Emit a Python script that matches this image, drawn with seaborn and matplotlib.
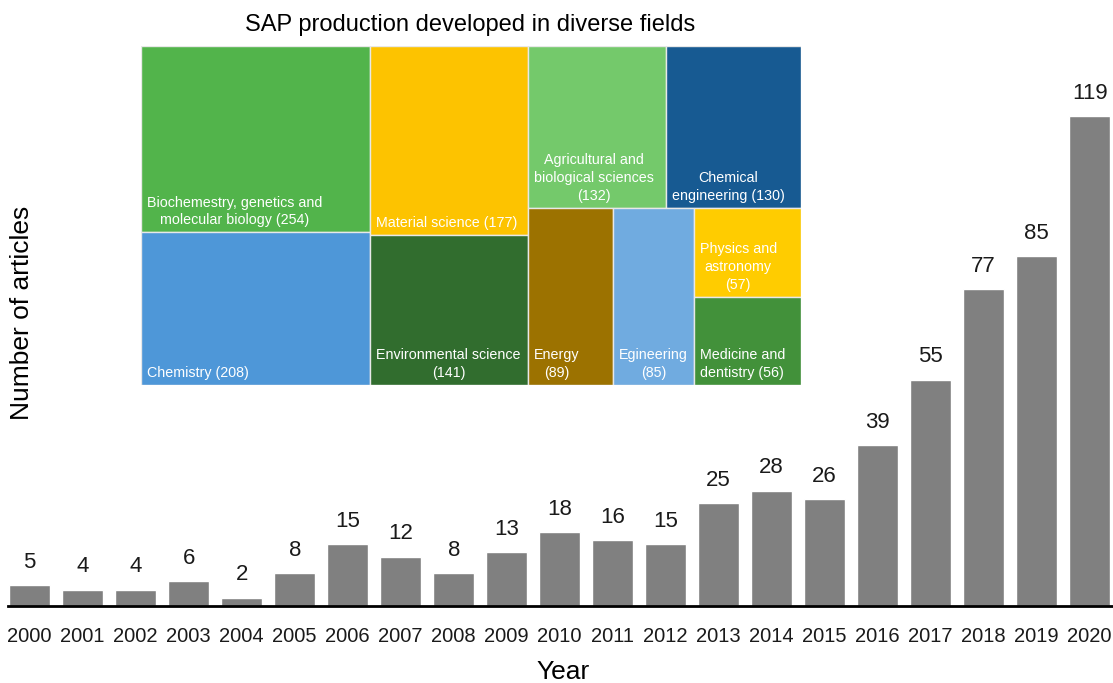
import matplotlib
matplotlib.use("Agg")
import matplotlib.pyplot as plt
from matplotlib.patches import Rectangle
import seaborn as sns
import pandas as pd

# Articles per year
years = [str(y) for y in range(2000, 2021)]
articles = [5, 4, 4, 6, 2, 8, 15, 12, 8, 13, 18, 16, 15, 25, 28, 26, 39, 55, 77, 85, 119]

# Research fields (treemap)
fields = [
    "Biochemestry, genetics and\nmolecular biology",
    "Chemistry",
    "Material science",
    "Environmental science",
    "Agricultural and\nbiological sciences",
    "Chemical\nengineering",
    "Energy",
    "Egineering",
    "Physics and\nastronomy",
    "Medicine and\ndentistry",
]
field_counts = [254, 208, 177, 141, 132, 130, 89, 85, 57, 56]
field_labels = [
    "Biochemestry, genetics and\nmolecular biology (254)",
    "Chemistry (208)",
    "Material science (177)",
    "Environmental science\n(141)",
    "Agricultural and\nbiological sciences\n(132)",
    "Chemical\nengineering (130)",
    "Energy\n(89)",
    "Egineering\n(85)",
    "Physics and\nastronomy\n(57)",
    "Medicine and\ndentistry (56)",
]
field_colors = ["#52B44B", "#4E97D8", "#FDC300", "#316D2E", "#74C96B",
                "#175A92", "#9C7200", "#70ABE0", "#FFCC00", "#42913A"]

# Nested slice layout: ('h' splits horizontally into columns, 'v' vertically into rows)
layout_tree = ("h", [
    ("v", [0, 1]),
    ("v", [2, 3]),
    ("v", [
        ("h", [4, 5]),
        ("h", [6, 7, ("v", [8, 9])]),
    ]),
])


def node_total(node):
    if isinstance(node, int):
        return field_counts[node]
    return sum(node_total(c) for c in node[1])


def layout(node, x, y, w, h, out):
    if isinstance(node, int):
        out[node] = (x, y, w, h)
        return
    kind, children = node
    tot = node_total(node)
    if kind == "h":
        cx = x
        for c in children:
            cw = w * node_total(c) / tot
            layout(c, cx, y, cw, h, out)
            cx += cw
    else:
        cy = y + h  # top to bottom
        for c in children:
            ch = h * node_total(c) / tot
            cy -= ch
            layout(c, x, cy, w, ch, out)


sns.set_theme(style="white")
plt.rcParams["font.family"] = ["Liberation Sans", "DejaVu Sans"]

W, H = 1113, 683
fig = plt.figure(figsize=(W / 100, H / 100), dpi=100)

ax = fig.add_axes([8 / W, 1 - 606 / H, 1 - 8 / W, (606 - 20) / H])
df = pd.DataFrame({"Year": years, "Articles": articles})
sns.barplot(data=df, x="Year", y="Articles", color="#808080", saturation=1,
            width=0.78, ax=ax)
ax.set_xlim(-0.41, 20.44)
ax.set_ylim(0, 142.3)
for i, v in enumerate(articles):
    ax.annotate(str(v), (i, v), xytext=(0, 12.5), textcoords="offset points",
                ha="center", va="baseline", fontsize=16, color="#1a1a1a")

for s in ["top", "right", "left"]:
    ax.spines[s].set_visible(False)
ax.spines["bottom"].set_color("black")
ax.spines["bottom"].set_linewidth(2)
ax.set_yticks([])
ax.tick_params(axis="x", length=0, pad=15, labelsize=14.5, labelcolor="#1a1a1a")
ax.set_xlabel("")
ax.set_ylabel("")
fig.text(563 / W, 1 - 672 / H, "Year", ha="center", va="center",
         fontsize=19, color="black")
fig.text(22 / W, 1 - 313 / H, "Number of articles", rotation=90,
         ha="center", va="center", fontsize=19, color="black")

# Treemap inset
tax = fig.add_axes([141 / W, 1 - 385 / H, 660 / W, 339 / H])
tax.set_xlim(0, 1)
tax.set_ylim(0, 1)
tax.axis("off")
rects = {}
layout(layout_tree, 0, 0, 1, 1, rects)
px = 1 / 660
py = 1 / 339
for i in range(len(fields)):
    x, y, w, h = rects[i]
    tax.add_patch(Rectangle((x, y), w, h, facecolor=field_colors[i],
                            edgecolor="#E8E8E8", linewidth=1))
    tax.text(x + 6 * px, y + 5 * py, field_labels[i], ha="left", va="bottom",
             multialignment="center", fontsize=10.3, color="white",
             linespacing=1.35)

fig.text(470 / W, 1 - 25 / H, "SAP production developed in diverse fields",
         ha="center", va="center", fontsize=17, color="black")

fig.savefig("out.png", dpi=100)
